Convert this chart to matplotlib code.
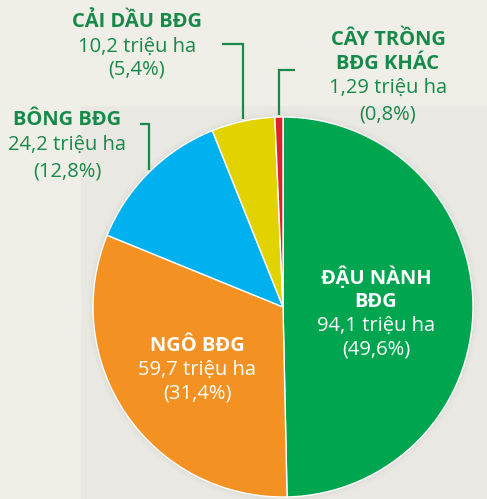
import numpy as np
import matplotlib
matplotlib.use("Agg")
import matplotlib.pyplot as plt
from matplotlib.patches import Rectangle

plt.rcParams['font.family'] = ['Open Sans', 'DejaVu Sans']

# ---- data ----
categories = ["ĐẬU NÀNH\nBĐG", "NGÔ BĐG", "BÔNG BĐG", "CẢI DẦU BĐG", "CÂY TRỒNG\nBĐG KHÁC"]
values = [94.1, 59.7, 24.2, 10.2, 1.29]
value_labels = ["94,1 triệu ha", "59,7 triệu ha", "24,2 triệu ha", "10,2 triệu ha", "1,29 triệu ha"]
pct_labels = ["(49,6%)", "(31,4%)", "(12,8%)", "(5,4%)", "(0,8%)"]
colors = ["#00a64f", "#f39122", "#00b0ef", "#e2d200", "#e0202a"]

W, H = 487, 499
fig = plt.figure(figsize=(W / 100, H / 100), dpi=100)
fig.patch.set_facecolor("#efeee7")
ax = fig.add_axes([0, 0, 1, 1])
ax.set_facecolor("#efeee7")

def Y(y):
    return H - y

# background panel
ax.add_patch(Rectangle((81, 0), W - 81, Y(106), facecolor="#e9e8e2", edgecolor="none", zorder=0))

cx, cy, R = 283, Y(307), 190
# soft shadow
for i, a in enumerate([0.05, 0.035, 0.02]):
    ax.add_patch(plt.Circle((cx, cy), R + 2 + 2 * i, color="#9a9a90", alpha=a, zorder=1, lw=0))

wedges, _ = ax.pie(values, colors=colors, startangle=90, counterclock=False,
                   center=(cx, cy), radius=R,
                   wedgeprops=dict(edgecolor="white", linewidth=1.0, zorder=2))
for w in wedges:
    w.set_zorder(2)

ax.set_xlim(0, W)
ax.set_ylim(0, H)
ax.set_aspect('equal')
ax.axis('off')

green_txt = "#17894a"
fs = 14.5

def label(x, y, head, val, pct, color, dy=(24, 23)):
    lines = head.split("\n")
    yy = y
    for ln in lines:
        ax.text(x, Y(yy), ln, ha='center', va='center', fontsize=fs, fontweight='bold', color=color, zorder=5)
        yy += dy[0]
    ax.text(x, Y(yy), val, ha='center', va='center', fontsize=fs, fontweight='medium', color=color, zorder=5)
    yy += dy[1]
    ax.text(x, Y(yy), pct, ha='center', va='center', fontsize=fs, fontweight='medium', color=color, zorder=5)

# inside labels
label(376, 278, categories[0], value_labels[0], pct_labels[0], "white")
label(197, 346, categories[1], value_labels[1], pct_labels[1], "white")
# outside labels
label(67, 120, categories[2], value_labels[2], pct_labels[2], green_txt, dy=(25, 26))
label(137, 22, categories[3], value_labels[3], pct_labels[3], green_txt, dy=(25, 22))
label(388, 40, categories[4], value_labels[4], pct_labels[4], green_txt, dy=(24, 26))

def mid_edge(w):
    th = np.deg2rad((w.theta1 + w.theta2) / 2)
    return cx + R * np.cos(th), cy + R * np.sin(th)

lc = "#17894a"
# leader lines: (horizontal start x, y level) per outside wedge
leaders = {2: (140, 124), 3: (222, 44), 4: (295, 70)}
for idx, (hx, hy) in leaders.items():
    ex, ey = mid_edge(wedges[idx])
    ax.plot([hx, ex, ex], [Y(hy), Y(hy), ey + 2], color=lc, lw=1.6, zorder=4,
            solid_capstyle='butt', solid_joinstyle='miter')

fig.savefig("out.png", dpi=100, facecolor=fig.get_facecolor())
